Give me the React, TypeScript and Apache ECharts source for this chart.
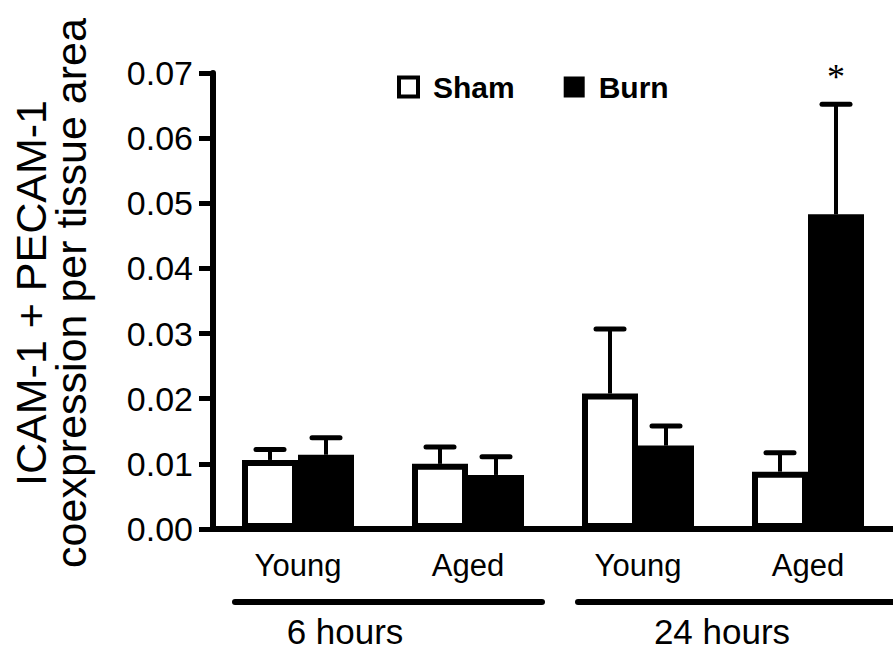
import React, { useEffect, useRef } from 'react';
import * as echarts from 'echarts';

const categories = ['Young', 'Aged', 'Young', 'Aged'];
const groupLabels = ['6 hours', '24 hours'];
const seriesNames = ['Sham', 'Burn'];
const shamMean = [0.0106, 0.01, 0.0208, 0.0088];
const shamSem = [0.0016, 0.0026, 0.0099, 0.0029];
const burnMean = [0.0114, 0.0083, 0.0128, 0.0483];
const burnSem = [0.0026, 0.0028, 0.003, 0.0169];
const burnMarks = ['', '', '', '*'];
const yTitleLines = ['ICAM-1 + PECAM-1', 'coexpression per tissue area'];

const FONT = '"Liberation Sans", Arial, sans-serif';
const BW = 56;

function errSeries(mean: number[], sem: number[], side: number, marks: string[] | null) {
  return {
    type: 'custom',
    z: 5,
    silent: true,
    data: mean.map((m, i) => [i, m, m + sem[i]]),
    encode: { x: 0, y: [1, 2] },
    renderItem: (params: any, api: any) => {
      const c = api.coord([api.value(0), api.value(1)]);
      const t = api.coord([api.value(0), api.value(2)]);
      const x = c[0] + (side * BW) / 2;
      const children: any[] = [
        { type: 'line', shape: { x1: x, y1: c[1], x2: x, y2: t[1] }, style: { stroke: '#000', lineWidth: 4 } },
        {
          type: 'line',
          shape: { x1: x - 14, y1: t[1], x2: x + 14, y2: t[1] },
          style: { stroke: '#000', lineWidth: 5, lineCap: 'round' },
        },
      ];
      const mark = marks ? marks[params.dataIndex] : '';
      if (mark) {
        children.push({
          type: 'text',
          x,
          y: t[1] - 27,
          style: {
            text: mark,
            font: '36px "Liberation Serif", "Times New Roman", serif',
            fill: '#000',
            textAlign: 'center',
            textVerticalAlign: 'middle',
          },
        });
      }
      return { type: 'group', children };
    },
  };
}

export default function App() {
  const ref = useRef<HTMLDivElement>(null);
  useEffect(() => {
    const chart = echarts.init(ref.current!, null, { renderer: 'svg' });
    chart.setOption({
      animation: false,
      backgroundColor: '#fff',
      grid: { left: 213, right: -6, top: 73, bottom: 121, containLabel: false },
      legend: {
        left: 397,
        top: 72,
        padding: 0,
        itemWidth: 19,
        itemHeight: 19,
        itemGap: 49,
        icon: 'rect',
        selectedMode: false,
        textStyle: { fontFamily: FONT, fontWeight: 'bold', fontSize: 30, color: '#000', padding: [0, 0, 0, 10] },
        data: [
          { name: seriesNames[0], itemStyle: { color: '#fff', borderColor: '#000', borderWidth: 4 } },
          { name: seriesNames[1], itemStyle: { color: '#000', borderColor: '#000', borderWidth: 2 } },
        ],
      },
      xAxis: {
        type: 'category',
        data: categories,
        axisLine: { lineStyle: { color: '#000', width: 6 } },
        axisTick: { show: false },
        axisLabel: { color: '#000', fontFamily: FONT, fontSize: 31, margin: 21 },
      },
      yAxis: {
        type: 'value',
        min: 0,
        max: 0.07,
        interval: 0.01,
        splitLine: { show: false },
        axisLine: { show: true, lineStyle: { color: '#000', width: 6 } },
        axisTick: { show: true, length: 14, lineStyle: { color: '#000', width: 5 } },
        axisLabel: {
          color: '#000',
          fontFamily: FONT,
          fontSize: 34,
          margin: 20,
          formatter: (v: number) => v.toFixed(2),
        },
      },
      series: [
        {
          type: 'bar',
          name: seriesNames[0],
          data: shamMean,
          barWidth: BW,
          barGap: '0%',
          itemStyle: { color: '#fff', borderColor: '#000', borderWidth: 6 },
        },
        {
          type: 'bar',
          name: seriesNames[1],
          data: burnMean,
          barWidth: BW,
          barGap: '0%',
          itemStyle: { color: '#000', borderColor: '#000', borderWidth: 6 },
        },
        errSeries(shamMean, shamSem, -1, null),
        errSeries(burnMean, burnSem, 1, burnMarks),
      ],
      graphic: [
        {
          type: 'line',
          shape: { x1: 235, y1: 602, x2: 542, y2: 602 },
          style: { stroke: '#000', lineWidth: 6, lineCap: 'round' },
        },
        {
          type: 'line',
          shape: { x1: 578, y1: 602, x2: 905, y2: 602 },
          style: { stroke: '#000', lineWidth: 6, lineCap: 'round' },
        },
        {
          type: 'text',
          x: 345,
          y: 631,
          style: { text: groupLabels[0], font: `35px ${FONT}`, fill: '#000', textAlign: 'center', textVerticalAlign: 'middle' },
        },
        {
          type: 'text',
          x: 722,
          y: 631,
          style: { text: groupLabels[1], font: `35px ${FONT}`, fill: '#000', textAlign: 'center', textVerticalAlign: 'middle' },
        },
        {
          type: 'text',
          x: 31,
          y: 293,
          rotation: Math.PI / 2,
          style: { text: yTitleLines[0], font: `43px ${FONT}`, fill: '#000', textAlign: 'center', textVerticalAlign: 'middle' },
        },
        {
          type: 'text',
          x: 71,
          y: 293,
          rotation: Math.PI / 2,
          style: { text: yTitleLines[1], font: `43px ${FONT}`, fill: '#000', textAlign: 'center', textVerticalAlign: 'middle' },
        },
      ],
    });
    return () => chart.dispose();
  }, []);
  return <div ref={ref} style={{ position: 'fixed', left: 0, top: 0, width: 893, height: 650 }} />;
}
